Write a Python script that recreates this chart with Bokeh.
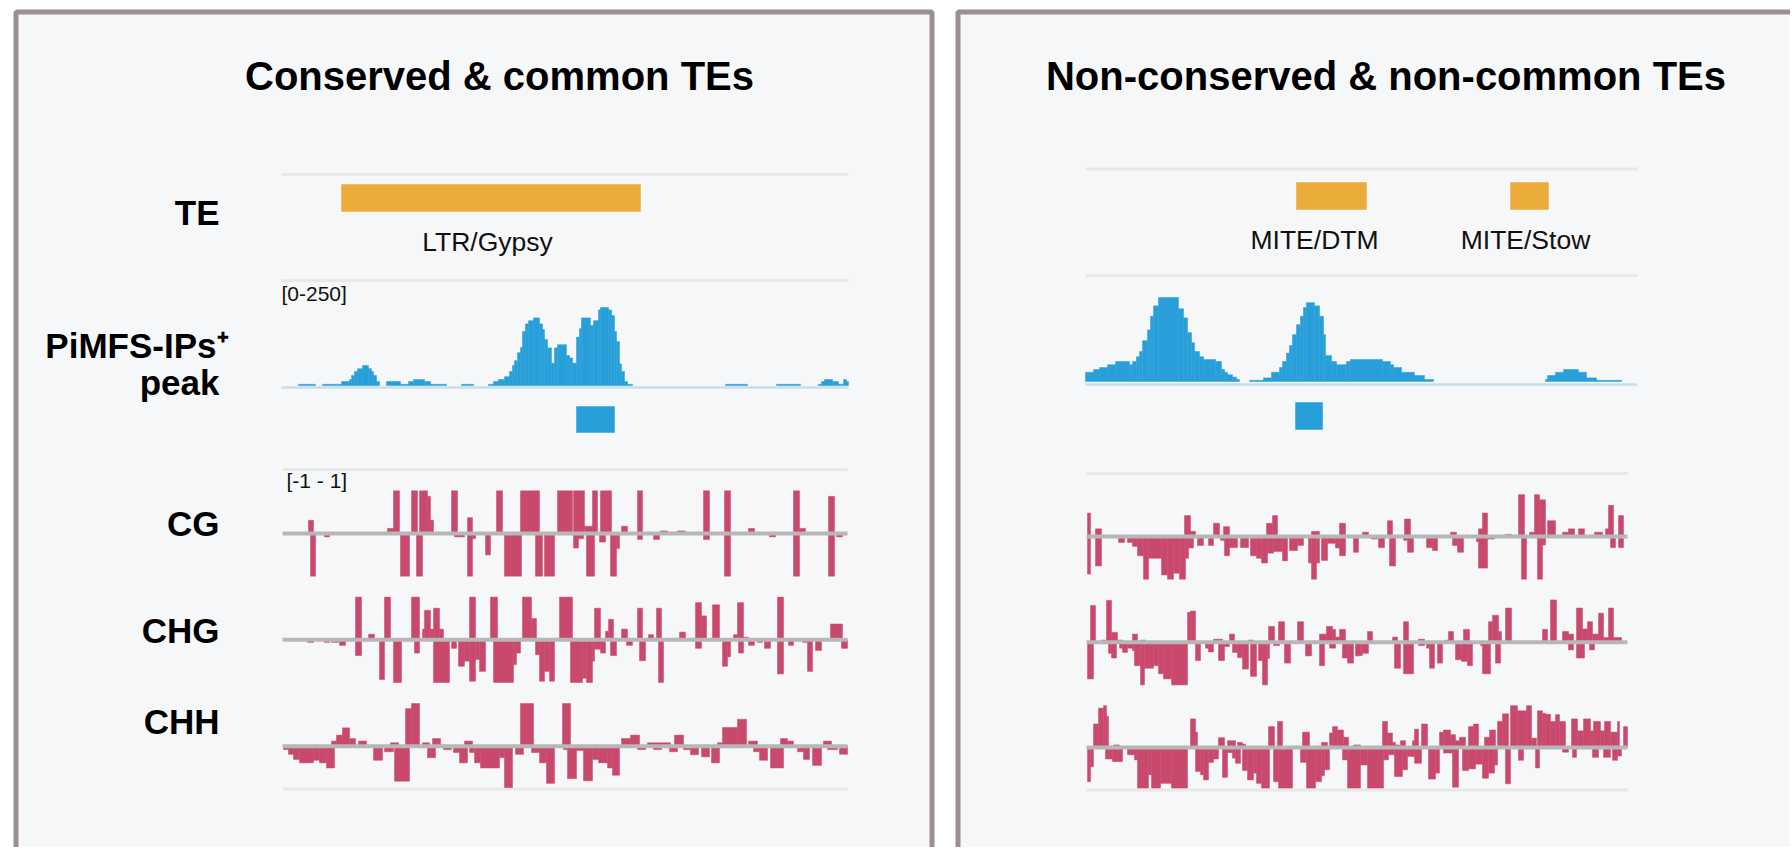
from bokeh.plotting import figure
from bokeh.models import Range1d, ColumnDataSource
from bokeh.core.properties import value
from bokeh.embed import file_html
from bokeh.resources import INLINE

# ---------------- data ----------------
TITLES = ["Conserved & common TEs", "Non-conserved & non-common TEs"]
TRACK_LABELS = ["TE", "PiMFS-IPs\u207a", "peak", "CG", "CHG", "CHH"]
PEAK_SCALE = "[0-250]"
METH_SCALE = "[-1 - 1]"

# window lengths (positions along each browser window)
L_TOP_LEN, L_MET_LEN = 567, 565
R_TOP_LEN, R_MET_LEN = 552, 541

# TE annotations: (start, end), name, label anchor
L_TE = [(60, 359)]
L_TE_NAMES = ["LTR/Gypsy"]
L_TE_LABEL_POS = [206]
R_TE = [(211, 281), (425, 463)]
R_TE_NAMES = ["MITE/DTM", "MITE/Stow"]
R_TE_LABEL_POS = [229, 440]

# called peaks (start, end)
L_PEAK_CALL = [(295, 333)]
R_PEAK_CALL = [(210, 237)]

# PiMFS-IPs+ signal (start, end, signal)
L_SIGNAL = [(17,34,3),(41,60,3),(60,68,10),(68,70,15),(70,73,25),(73,76,35),(76,81,42),(81,87,50),
            (87,90,42),(90,92,35),(92,95,25),(95,98,10),(105,119,10),(119,127,3),(127,132,10),
            (132,143,15),(143,149,10),(149,165,3),(180,192,3),(207,212,3),(212,217,10),(217,223,15),
            (223,228,22),(228,231,35),(231,233,50),(233,236,62),(236,239,82),(239,241,95),(241,244,135),
            (244,247,154),(247,252,162),(252,258,169),(258,261,154),(261,263,140),(263,266,115),
            (266,270,94),(270,273,56),(273,276,94),(276,285,102),(285,288,75),(288,291,69),(291,295,56),
            (295,298,121),(298,300,142),(300,309,169),(309,312,150),(312,317,162),(317,319,189),
            (319,327,195),(327,330,189),(330,333,175),(333,335,135),(335,338,110),(338,340,54),
            (340,343,35),(343,346,10),(346,351,3),(444,466,3),(495,519,3),(537,540,3),(540,543,10),
            (543,551,15),(551,557,10),(557,562,3),(562,565,15),(565,567,10)]
R_SIGNAL = [(0,8,23),(8,14,30),(14,22,35),(22,30,42),(30,44,50),(44,47,42),(47,51,50),(51,54,62),
            (54,57,75),(57,62,102),(62,65,129),(65,68,163),(68,73,189),(73,93,210),(93,98,182),
            (98,102,159),(102,106,122),(106,109,97),(109,114,75),(114,118,62),(118,130,55),(130,136,50),
            (136,139,30),(139,142,23),(142,147,17),(147,151,11),(151,154,5),(164,178,3),(178,186,9),
            (186,194,23),(194,197,35),(197,201,50),(201,204,71),(204,207,90),(207,211,117),(211,215,142),
            (215,218,163),(218,221,185),(221,229,197),(229,234,189),(234,238,163),(238,240,117),
            (240,246,65),(246,251,50),(251,261,42),(261,265,50),(265,297,55),(297,305,50),(305,308,42),
            (308,316,35),(316,329,23),(329,339,15),(339,348,5),(460,462,5),(462,470,15),(470,478,23),
            (478,493,30),(493,501,23),(501,511,9),(511,536,3)]

# methylation levels (start, end, level in [-1, 1])
L_CG_UP = [(26,31,0.31),(105,111,0.12),(111,117,1.0),(129,135,1.0),(137,145,1.0),(145,148,0.87),
           (148,151,0.31),(169,175,1.0),(185,190,0.37),(214,220,1.0),(238,257,1.0),(275,290,1.0),
           (291,302,1.0),(302,310,0.17),(310,315,1.0),(318,329,1.0),(339,345,0.17),(355,360,1.0),
           (378,385,0.06),(395,403,0.06),(421,427,1.0),(442,448,1.0),(466,472,0.12),(511,517,1.0),
           (517,523,0.12),(546,552,0.87)]
L_CG_DN = [(28,33,-1),(42,47,-0.08),(118,127,-1),(134,140,-1),(172,182,-0.08),(185,190,-1),
           (190,193,-0.12),(203,208,-0.5),(222,239,-1),(253,260,-1),(262,272,-1),(291,296,-0.34),
           (296,301,-0.12),(304,312,-1),(317,323,-0.2),(328,334,-1),(334,337,-0.35),(355,360,-0.14),
           (371,377,-0.14),(421,427,-0.14),(442,448,-1),(487,493,-0.08),(511,517,-1),(546,552,-1),
           (554,560,-0.08)]
L_CHG_UP = [(73,79,1.0),(86,92,0.13),(102,108,1.0),(129,137,1.0),(140,142,0.25),(142,148,0.69),
            (148,151,0.25),(151,157,0.74),(157,161,0.25),(187,193,1.0),(208,215,1.0),(240,249,1.0),
            (249,254,0.5),(277,290,1.0),(312,318,0.74),(323,326,0.2),(326,331,0.48),(339,345,0.25),
            (355,360,0.74),(366,371,0.12),(374,379,0.74),(397,403,0.18),(413,419,0.87),(419,424,0.56),
            (430,437,0.82),(451,455,0.12),(455,461,0.87),(461,466,0.06),(495,501,1.0),(548,560,0.37)]
L_CHG_DN = [(25,31,-0.06),(42,47,-0.06),(49,56,-0.06),(57,63,-0.13),(73,79,-0.37),(97,102,-0.93),
            (111,119,-1),(132,137,-0.31),(151,167,-1),(169,174,-0.2),(176,182,-0.62),(182,187,-0.5),
            (187,193,-0.97),(193,197,-0.46),(197,203,-0.74),(211,231,-1),(231,234,-0.58),(234,238,-0.31),
            (253,257,-0.35),(257,262,-0.97),(262,267,-0.74),(267,272,-0.97),(288,300,-1),(300,304,-0.9),
            (304,310,-1),(310,312,-0.5),(312,318,-0.22),(318,323,-0.31),(328,334,-0.37),(344,350,-0.13),
            (357,363,-0.49),(376,381,-1),(413,419,-0.2),(440,445,-0.62),(445,448,-0.4),(456,461,-0.31),
            (466,472,-0.13),(475,480,-0.06),(482,488,-0.2),(495,501,-0.8),(506,511,-0.13),(520,525,-0.06),
            (525,530,-0.74),(533,539,-0.25),(559,565,-0.2)]
L_CHH_UP = [(49,54,0.12),(54,60,0.26),(60,67,0.43),(67,73,0.18),(76,84,0.12),(108,116,0.08),
            (123,129,0.88),(129,137,1.0),(140,147,0.08),(150,158,0.18),(182,190,0.12),(238,251,1.0),
            (280,288,1.0),(339,348,0.18),(348,357,0.26),(365,375,0.08),(375,388,0.08),(392,401,0.26),
            (435,440,0.08),(440,455,0.44),(455,464,0.63),(466,475,0.12),(498,505,0.18),(505,511,0.12),
            (541,549,0.12)]
L_CHH_DN = [(1,6,-0.08),(6,11,-0.19),(11,17,-0.31),(17,31,-0.39),(31,37,-0.33),(37,44,-0.39),
            (44,52,-0.51),(91,100,-0.33),(102,111,-0.13),(112,127,-0.82),(145,153,-0.27),(161,169,-0.08),
            (171,177,-0.15),(177,185,-0.39),(187,192,-0.15),(192,198,-0.39),(198,217,-0.51),(217,222,-0.27),
            (222,230,-0.97),(233,241,-0.19),(249,257,-0.15),(257,264,-0.39),(264,272,-0.87),(281,285,-0.08),
            (285,294,-0.76),(294,301,-0.1),(301,310,-0.81),(310,316,-0.31),(316,325,-0.39),(325,330,-0.51),
            (330,337,-0.68),(355,363,-0.08),(371,379,-0.08),(387,395,-0.13),(401,408,-0.08),(408,416,-0.2),
            (419,427,-0.25),(429,437,-0.39),(471,477,-0.13),(477,485,-0.33),(488,501,-0.51),(515,521,-0.13),
            (521,527,-0.31),(530,539,-0.45),(545,555,-0.08),(557,565,-0.19)]

R_CG_UP = [(1,4,0.55),(9,15,0.18),(98,104,0.49),(104,109,0.12),(127,133,0.31),(137,143,0.23),
           (180,186,0.31),(186,191,0.49),(225,233,0.12),(253,259,0.31),(276,282,0.1),(301,306,0.37),
           (318,324,0.41),(364,370,0.1),(392,396,0.18),(396,401,0.55),(419,425,0.05),(432,438,0.98),
           (443,448,0.1),(448,453,0.98),(453,459,0.86),(461,469,0.37),(476,482,0.1),(482,488,0.18),
           (492,498,0.18),(508,516,0.1),(519,522,0.18),(522,527,0.73),(532,537,0.49)]
R_CG_DN = [(1,4,-0.88),(9,15,-0.69),(32,38,-0.14),(41,46,-0.14),(46,51,-0.23),(51,57,-0.45),
           (57,62,-1),(62,75,-0.51),(75,81,-0.9),(81,87,-1),(87,93,-0.86),(93,99,-1),(99,102,-0.51),
           (102,107,-0.27),(111,117,-0.21),(122,127,-0.21),(134,138,-0.09),(138,143,-0.45),(143,151,-0.26),
           (154,162,-0.26),(164,170,-0.45),(170,175,-0.51),(175,181,-0.62),(181,187,-0.39),(187,196,-0.35),
           (196,201,-0.57),(203,211,-0.33),(211,217,-0.21),(222,225,-0.62),(225,230,-1),(230,233,-0.62),
           (235,241,-0.56),(241,249,-0.16),(249,253,-0.27),(253,259,-0.45),(267,272,-0.37),(285,291,-0.06),
           (292,298,-0.26),(303,309,-0.69),(317,321,-0.09),(321,327,-0.37),(340,346,-0.26),(346,351,-0.33),
           (366,371,-0.21),(371,377,-0.37),(390,392,-0.12),(392,401,-0.74),(401,408,-0.06),(435,440,-1),
           (451,456,-1),(456,459,-0.2),(524,529,-0.26),(532,537,-0.26)]
R_CHG_UP = [(4,9,0.86),(15,19,0.05),(20,25,0.98),(25,31,0.23),(31,36,0.05),(46,51,0.19),(54,59,0.05),
            (101,104,0.7),(104,109,0.73),(127,136,0.07),(143,148,0.19),(162,167,0.05),(182,188,0.37),
            (192,198,0.48),(211,217,0.48),(233,240,0.19),(240,246,0.37),(246,249,0.3),(249,253,0.12),
            (253,259,0.3),(281,286,0.25),(306,311,0.12),(317,322,0.48),(332,338,0.07),(359,362,0.05),
            (362,367,0.25),(377,383,0.3),(402,406,0.48),(406,412,0.63),(412,415,0.25),(419,425,0.8),
            (456,461,0.3),(464,470,0.99),(476,482,0.25),(482,487,0.19),(490,496,0.8),(496,501,0.31),
            (501,506,0.48),(506,512,0.19),(512,517,0.68),(517,522,0.11),(522,527,0.8),(527,535,0.11)]
R_CHG_DN = [(1,7,-0.86),(22,25,-0.26),(25,30,-0.37),(33,36,-0.14),(36,41,-0.24),(41,46,-0.14),
            (46,48,-0.2),(48,54,-0.55),(54,58,-1),(58,67,-0.61),(67,72,-0.55),(72,77,-0.74),(77,85,-0.86),
            (85,101,-1),(109,114,-0.43),(119,122,-0.14),(122,127,-0.23),(132,138,-0.43),(138,143,-0.1),
            (146,151,-0.24),(151,156,-0.36),(156,162,-0.63),(164,170,-0.8),(172,176,-0.43),(176,181,-1),
            (181,183,-0.38),(187,193,-0.08),(198,204,-0.49),(219,225,-0.32),(233,238,-0.55),(243,249,-0.14),
            (256,261,-0.37),(261,267,-0.49),(269,274,-0.32),(274,276,-0.31),(276,282,-0.26),(308,314,-0.61),
            (317,327,-0.74),(332,338,-0.08),(340,343,-0.14),(343,348,-0.61),(351,356,-0.49),(369,375,-0.41),
            (375,381,-0.45),(381,386,-0.55),(394,396,-0.08),(396,404,-0.74),(409,414,-0.49),(482,487,-0.18),
            (490,498,-0.37),(503,508,-0.18)]
R_CHH_UP = [(7,12,0.55),(12,17,0.92),(17,20,0.98),(20,22,0.73),(27,33,0.06),(104,109,0.67),(109,111,0.36),
            (132,138,0.23),(141,149,0.16),(151,156,0.12),(156,159,0.08),(182,188,0.49),(191,196,0.61),
            (216,223,0.36),(235,241,0.12),(243,246,0.34),(246,251,0.49),(251,257,0.41),(257,262,0.24),
            (267,274,0.06),(296,301,0.61),(301,306,0.34),(306,309,0.12),(309,313,0.06),(314,319,0.16),
            (326,328,0.16),(328,332,0.43),(335,341,0.55),(353,357,0.36),(357,364,0.41),(364,369,0.3),
            (369,373,0.16),(373,379,0.24),(382,387,0.49),(387,392,0.55),(398,403,0.24),(403,409,0.41),
            (411,416,0.61),(416,422,0.79),(424,431,0.98),(431,440,0.86),(440,445,0.98),(445,450,0.22),
            (451,456,0.86),(456,459,0.8),(459,464,0.78),(464,469,0.61),(469,473,0.77),(473,479,0.61),
            (485,491,0.67),(491,497,0.39),(497,504,0.67),(504,507,0.39),(507,514,0.61),(514,518,0.39),
            (518,524,0.61),(524,531,0.36),(531,533,0.61),(537,541,0.49)]
R_CHH_DN = [(1,4,-0.8),(4,7,-0.45),(19,26,-0.27),(26,36,-0.33),(41,48,-0.17),(48,51,-0.29),(51,62,-0.95),
            (62,65,-0.64),(65,74,-0.95),(74,85,-0.84),(85,101,-0.95),(109,114,-0.56),(114,117,-0.64),
            (117,122,-0.76),(122,127,-0.35),(127,132,-0.27),(136,141,-0.7),(141,146,-0.12),(146,149,-0.25),
            (149,154,-0.37),(156,161,-0.54),(161,167,-0.76),(167,170,-0.6),(170,175,-0.84),(175,183,-0.95),
            (187,192,-0.8),(192,206,-0.95),(214,220,-0.35),(220,229,-0.95),(229,235,-0.8),(235,238,-0.66),
            (238,243,-0.52),(256,261,-0.29),(261,274,-0.95),(274,281,-0.41),(281,297,-0.95),(297,302,-0.29),
            (302,308,-0.17),(308,316,-0.68),(316,321,-0.52),(321,328,-0.21),(328,335,-0.37),(342,349,-0.74),
            (349,353,-0.6),(357,366,-0.13),(366,372,-0.93),(376,382,-0.54),(382,389,-0.5),(389,396,-0.39),
            (396,402,-0.72),(402,408,-0.6),(408,411,-0.41),(419,424,-0.85),(432,437,-0.3),(449,453,-0.48),
            (476,482,-0.11),(486,490,-0.23),(506,512,-0.23),(517,524,-0.23),(526,531,-0.3),(531,535,-0.2)]

# ---------------- styling / layout ----------------
W, H = 1790, 847
X0, Y0 = 0, 0
X1, Y1 = X0 + W, Y0 + H
FONT = value("Liberation Sans")
PINK = "#c9496c"
BLUE = "#289fd8"
GOLD = "#ebac3c"
PANEL = "#f5f7f9"
FRAME = "#9a918e"
SEP = "#e7e8e7"
BASE = "#b7b7b7"
PKBASE = "#c9dfea"


def xr(a, b, length):
    k = length / (b - a)
    return Range1d(-(a - X0) * k, length + (X1 - b) * k)


def yr(base, top, vtop):
    k = vtop / (base - top)
    return Range1d(-(Y1 - base) * k, (base - Y0) * k)


LAY = {
    "L": dict(top=(281, 848, L_TOP_LEN), met=(282, 847, L_MET_LEN), te=(211, 184), pk=385, box=(432, 406),
              cg=533, chg=639.3, chh=745.7, seps_top=(174, 280), seps_met=(469, 788.5), pkline=387),
    "R": dict(top=(1085, 1637, R_TOP_LEN), met=(1086, 1627, R_MET_LEN), te=(209, 182), pk=381, box=(429, 402),
              cg=536, chg=641.7, chh=747, seps_top=(168.5, 275), seps_met=(473, 789.5), pkline=384),
}
METH_PX = 42.7
PEAK_PX = 100.0

xranges, yranges = {}, {}
for s, L in LAY.items():
    xranges[s + "top"] = xr(*L["top"])
    xranges[s + "met"] = xr(*L["met"])
    yranges[s + "te"] = yr(L["te"][0], L["te"][1], 1.0)
    yranges[s + "pk"] = yr(L["pk"], L["pk"] - PEAK_PX, 250.0)
    yranges[s + "box"] = yr(L["box"][0], L["box"][1], 1.0)
    for t in ("cg", "chg", "chh"):
        yranges[s + t] = yr(L[t], L[t] - METH_PX, 1.0)

p = figure(width=W, height=H, x_range=Range1d(X0, X1), y_range=Range1d(Y1, Y0),
           output_backend="svg", toolbar_location=None, x_axis_type=None, y_axis_type=None,
           min_border=0, outline_line_color=None, background_fill_color="white",
           border_fill_color="white")
p.grid.visible = False
p.extra_x_ranges = xranges
p.extra_y_ranges = yranges

# panels
p.quad(left=[15.5, 957.5], right=[931.5, 1900], top=[11.5, 11.5], bottom=[950, 950],
       fill_color=PANEL, line_color=FRAME, line_width=5)


def bars(segs, xn, yn, color):
    src = ColumnDataSource(dict(
        left=[a for a, b, v in segs], right=[b for a, b, v in segs],
        bottom=[min(v, 0) for a, b, v in segs], top=[max(v, 0) for a, b, v in segs]))
    p.quad(left="left", right="right", bottom="bottom", top="top", source=src,
           x_range_name=xn, y_range_name=yn, fill_color=color, line_color=color, line_width=0.5)


def hline(xn, length, y, color, width, yn="default"):
    kw = dict(x_range_name=xn)
    if yn != "default":
        kw["y_range_name"] = yn
    p.segment(x0=[0], x1=[length], y0=[y], y1=[y], line_color=color, line_width=width, **kw)


DATA = {
    "L": dict(te=L_TE, names=L_TE_NAMES, lpos=L_TE_LABEL_POS, call=L_PEAK_CALL, sig=L_SIGNAL,
              cg=(L_CG_UP, L_CG_DN), chg=(L_CHG_UP, L_CHG_DN), chh=(L_CHH_UP, L_CHH_DN)),
    "R": dict(te=R_TE, names=R_TE_NAMES, lpos=R_TE_LABEL_POS, call=R_PEAK_CALL, sig=R_SIGNAL,
              cg=(R_CG_UP, R_CG_DN), chg=(R_CHG_UP, R_CHG_DN), chh=(R_CHH_UP, R_CHH_DN)),
}

for s in ("L", "R"):
    L, D = LAY[s], DATA[s]
    tlen, mlen = L["top"][2], L["met"][2]
    for y in L["seps_top"]:
        hline(s + "top", tlen, y, SEP, 3)
    for y in L["seps_met"]:
        hline(s + "met", mlen, y, SEP, 3)
    # TE features
    bars([(a, b, 1.0) for a, b in D["te"]], s + "top", s + "te", GOLD)
    p.text(x=D["lpos"], y=[L["te"][0] + 30] * len(D["lpos"]), text=D["names"], x_range_name=s + "top",
           text_font=FONT, text_font_size="26.5px", text_align="center", text_baseline="alphabetic",
           text_color="#111111")
    # signal
    hline(s + "top", tlen, L["pkline"], PKBASE, 2.5)
    bars(D["sig"], s + "top", s + "pk", BLUE)
    bars([(a, b, 1.0) for a, b in D["call"]], s + "top", s + "box", BLUE)
    # methylation
    for t in ("cg", "chg", "chh"):
        up, dn = D[t]
        bars(up, s + "met", s + t, PINK)
        bars(dn, s + "met", s + t, PINK)
        hline(s + "met", mlen, 0, BASE, 4, yn=s + t)

# titles
p.text(x=[499, 1385.5], y=[75, 75], text=TITLES, text_font=FONT, text_font_style="bold",
       text_font_size="40px", text_align="center", text_baseline="alphabetic", text_color="black")

# track labels (left panel)
p.text(x=[219, 228, 219, 219, 219, 219], y=[212, 345, 382, 523, 630, 721], text=TRACK_LABELS,
       text_font=FONT, text_font_style="bold", text_font_size="35px", text_align="right",
       text_baseline="alphabetic", text_color="black")

# scale labels
p.text(x=[281, 286], y=[292.5, 480], text=[PEAK_SCALE, METH_SCALE], text_font=FONT,
       text_font_size="21px", text_align="left", text_baseline="alphabetic", text_color="#111111")

open("out.html", "w").write(file_html(p, INLINE))
